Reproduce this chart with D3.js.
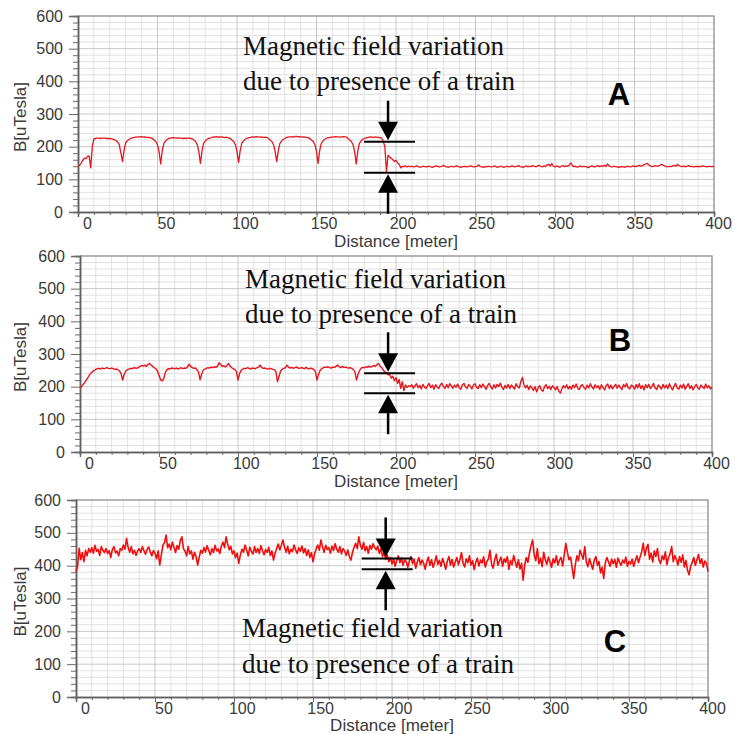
<!DOCTYPE html>
<html><head><meta charset="utf-8">
<script src="https://cdn.jsdelivr.net/npm/d3@7"></script>
<style>body{margin:0;background:#fff}svg{display:block}</style>
</head><body>
<svg id="chart" width="735" height="734"></svg>
<script>
// ---------- data ----------
const distance = d3.range(0, 401, 1); // metres, 1 m sampling
const xTicks = [0, 50, 100, 150, 200, 250, 300, 350, 400];
const yTicks = [0, 100, 200, 300, 400, 500, 600];
const panelLabels = ["A", "B", "C"];
const annotationText = ["Magnetic field variation", "due to presence of a train"];
const xTitle = "Distance [meter]";
const yTitle = "B[uTesla]";

const seriesA = [
140,143,150,158,165,163,170,172,135,200,
224,225,226,226,225,226,226,226,225,225,
225,224,223,221,218,214,205,180,154,190,
212,218,222,225,227,228,229,229,230,230,
231,229,230,229,228,228,227,224,220,215,
206,185,147,188,210,217,222,225,226,227,
228,227,226,227,226,226,225,226,225,226,
226,225,224,220,215,206,185,149,188,210,
217,222,225,226,228,230,229,231,229,230,
229,230,228,229,228,227,224,220,215,206,
185,152,188,210,217,222,225,227,228,229,
230,229,231,230,229,230,229,228,229,228,
224,220,215,206,185,154,188,210,217,222,
225,228,229,230,230,231,229,232,230,231,
230,229,230,229,228,227,224,220,215,206,
185,149,188,210,217,222,225,227,228,229,
229,230,231,230,230,229,230,231,230,229,
224,220,215,206,185,147,188,210,217,222,
225,227,228,229,230,229,228,230,229,228,
228,226,216,200,123,174,168,165,160,155,
158,150,146,135,140,139,141,138,140,139,
140,138,139,141,139,137,138,140,139,138,
139,140,138,137,139,141,140,138,139,140,
143,139,138,137,139,140,138,139,141,139,
138,137,139,140,139,138,140,141,139,138,
139,140,144,139,138,137,139,138,140,139,
138,139,141,138,137,139,140,138,137,139,
140,138,139,141,139,138,140,142,139,138,
137,139,141,138,140,139,142,140,138,141,
143,140,138,141,139,144,146,141,148,140,
138,141,139,137,140,142,139,141,140,144,
150,142,139,140,137,139,141,138,140,139,
138,136,139,141,139,138,140,142,139,141,
140,143,139,147,141,139,138,140,139,138,
137,138,139,138,137,139,140,138,139,141,
140,139,141,143,140,142,145,147,149,144,
141,139,140,142,140,141,143,146,144,141,
139,138,140,139,141,143,140,146,142,140,
139,141,138,140,142,139,140,138,139,140,
139,140,139,141,140,139,138,140,139,140,
139];

const seriesB = [
195,200,207,213,220,228,236,242,246,250,
253,255,256,254,257,255,256,258,256,255,
257,255,253,254,252,248,240,220,238,248,
252,254,256,255,258,257,256,259,262,265,
263,266,262,268,271,266,262,258,255,248,
235,221,218,225,243,252,255,254,257,256,
255,257,254,256,258,255,257,256,260,269,
262,258,256,257,252,245,221,238,250,254,
256,258,257,260,258,261,259,263,273,268,
262,264,260,265,271,263,258,255,252,246,
220,240,250,254,256,255,258,256,254,257,
256,255,258,260,266,258,256,257,255,254,
256,255,253,252,246,215,232,248,254,256,
258,266,260,257,259,256,258,260,257,256,
258,257,255,259,256,254,257,255,252,246,
220,238,250,255,258,260,259,261,258,257,
260,259,262,266,261,258,262,259,260,258,
257,258,256,252,246,220,238,250,257,259,
258,261,259,263,260,262,265,262,268,271,
262,258,250,245,242,236,238,226,232,218,
228,210,222,195,215,188,205,198,203,200,
206,195,203,209,197,204,193,207,199,194,
203,210,197,205,192,206,199,194,205,211,
200,194,207,197,209,203,195,205,198,208,
197,192,205,210,199,194,207,201,193,205,
209,198,194,206,197,208,200,192,204,210,
199,193,206,196,207,200,211,198,191,204,
196,207,194,205,199,193,209,200,196,215,
228,206,196,204,191,202,196,188,200,184,
197,203,190,186,200,206,194,201,191,203,
197,190,200,187,180,194,203,196,206,193,
201,192,205,197,208,195,191,203,206,197,
192,205,196,209,199,193,206,197,203,191,
206,197,190,203,208,194,205,193,201,207,
195,205,197,191,207,199,210,196,193,205,
201,192,207,196,209,194,203,190,206,197,
207,194,201,210,196,191,205,199,193,207,
196,205,194,209,199,190,202,210,196,192,
205,196,208,192,201,209,194,203,190,200,
207,196,192,205,199,194,208,196,203,193,
199];

const seriesC = [
382,398,453,418,440,412,447,430,452,441,
455,438,462,444,450,431,458,447,440,452,
437,446,425,449,458,439,445,430,452,447,
463,450,483,455,441,458,436,447,431,445,
452,440,458,446,435,449,457,442,430,446,
438,421,445,402,433,462,470,493,455,466,
448,472,455,440,461,450,476,488,452,444,
430,458,436,445,420,441,428,402,426,447,
438,455,442,461,447,433,452,440,462,445,
451,437,460,472,455,488,466,448,459,436,
445,424,438,407,432,450,441,463,447,430,
456,444,435,458,440,452,437,461,446,433,
449,440,456,431,445,417,438,452,466,448,
462,478,455,441,459,436,450,443,463,448,
437,455,444,460,439,452,431,448,425,440,
412,436,451,463,447,478,458,441,462,449,
455,438,460,446,467,450,441,458,436,452,
445,431,448,428,417,440,456,468,452,488,
462,450,471,445,458,438,462,450,467,455,
448,460,437,452,428,441,419,433,412,425,
405,420,398,416,430,409,423,401,418,412,
395,414,428,406,420,392,411,425,403,417,
408,389,412,426,401,418,395,410,430,404,
416,398,422,407,389,413,428,402,419,396,
411,425,403,418,440,407,396,421,409,430,
402,415,388,410,423,399,417,408,427,396,
412,420,447,405,392,418,435,401,414,426,
398,421,410,428,389,416,403,431,412,395,
418,390,407,356,402,425,410,438,461,478,
433,415,452,406,423,397,441,418,404,426,
412,395,421,408,430,402,417,425,399,432,
468,441,418,426,395,361,402,430,415,447,
433,420,458,411,397,422,405,389,416,428,
401,413,378,395,361,408,425,412,398,420,
406,419,395,423,410,401,417,408,426,398,
413,405,420,398,415,430,409,426,442,468,
431,452,465,420,438,411,445,428,452,417,
406,430,418,442,403,425,436,458,412,431,
419,402,428,410,433,396,416,387,372,398,
410,425,401,418,434,407,421,396,414,408,
382];

// annotation: field level before / after the train passed, and where the arrow sits
const barsA = [215, 120];
const barsB = [241, 180];
const barsC = [422, 389];
const arrowDistance = [195, 195, 196];

// ---------- drawing ----------
const svg = d3.select("#chart");
const panels = [
  {values: seriesA, bars: barsA, at: arrowDistance[0], letter: panelLabels[0],
   box: {l: 78, r: 714, t: 16, b: 212}, textX: 243, textY: [55, 90], letterPos: [619, 105],
   color: "#e5161d", lw: 1.3, titleDy: 35},
  {values: seriesB, bars: barsB, at: arrowDistance[1], letter: panelLabels[1],
   box: {l: 80, r: 712, t: 256, b: 452}, textX: 245, textY: [288, 323], letterPos: [620, 351],
   color: "#e5161d", lw: 1.4, titleDy: 35},
  {values: seriesC, bars: barsC, at: arrowDistance[2], letter: panelLabels[2],
   box: {l: 76, r: 708, t: 500, b: 697}, textX: 242, textY: [637, 673], letterPos: [615, 652],
   color: "#f20d0d", lw: 1.6, titleDy: 34}
];

const minorX = d3.range(10, 400, 10).filter(v => v % 50 !== 0);
const majorX = d3.range(50, 400, 50);
const allX = d3.range(0, 401, 10);
const minorY = d3.range(20, 600, 20).filter(v => v % 100 !== 0);
const majorY = d3.range(100, 600, 100);
const allYMinor = d3.range(0, 601, 20).filter(v => v % 100 !== 0);

panels.forEach(p => {
  const {l, r, t, b} = p.box;
  const x = d3.scaleLinear().domain([0, 400]).range([l, r]);
  const labelX = d3.scaleLinear().domain([0, 400]).range([l + 9, r + 4]);
  const y = d3.scaleLinear().domain([0, 600]).range([b, t]);
  const g = svg.append("g");

  // grid
  g.append("g").selectAll("line").data(minorX).join("line")
    .attr("x1", d => x(d)).attr("x2", d => x(d)).attr("y1", t).attr("y2", b)
    .attr("stroke", "#e2e2e2").attr("stroke-width", 1);
  g.append("g").selectAll("line").data(minorY).join("line")
    .attr("x1", l).attr("x2", r).attr("y1", d => y(d)).attr("y2", d => y(d))
    .attr("stroke", "#e2e2e2").attr("stroke-width", 1);
  g.append("g").selectAll("line").data(majorX).join("line")
    .attr("x1", d => x(d)).attr("x2", d => x(d)).attr("y1", t).attr("y2", b)
    .attr("stroke", "#c6c6c6").attr("stroke-width", 1);
  g.append("g").selectAll("line").data(majorY).join("line")
    .attr("x1", l).attr("x2", r).attr("y1", d => y(d)).attr("y2", d => y(d))
    .attr("stroke", "#c6c6c6").attr("stroke-width", 1);

  // frame top/right
  g.append("path").attr("d", `M${l},${t}H${r}V${b}`)
    .attr("fill", "none").attr("stroke", "#9c9c9c").attr("stroke-width", 1.5);

  // y axis
  const yMinorAx = g.append("g").attr("transform", `translate(${l},0)`)
    .call(d3.axisLeft(y).tickValues(allYMinor).tickSize(5).tickFormat(""));
  const yAx = g.append("g").attr("transform", `translate(${l},0)`)
    .call(d3.axisLeft(y).tickValues(yTicks).tickSize(9).tickPadding(6).tickFormat(d3.format("d")));
  // x axis
  const xMinorAx = g.append("g").attr("transform", `translate(0,${b})`)
    .call(d3.axisBottom(x).tickValues(allX).tickSize(3).tickFormat(""));
  const xAx = g.append("g").attr("transform", `translate(0,${b})`)
    .call(d3.axisBottom(x).tickValues(xTicks).tickSize(5).tickFormat(d3.format("d")));
  [yMinorAx, yAx, xMinorAx, xAx].forEach(a => {
    a.select(".domain").attr("stroke", "#5f5f5f").attr("stroke-width", 1.5);
    a.selectAll(".tick line").attr("stroke", "#6a6a6a").attr("stroke-width", 1);
  });
  [yAx, xAx].forEach(a => a.selectAll("text")
    .attr("fill", "#3a3a3a").style("font-family", "'Liberation Sans', Arial, sans-serif")
    .style("font-size", "16px"));
  xAx.selectAll(".tick text").attr("y", 6).attr("dy", "0.71em")
    .attr("x", d => labelX(d) - x(d));

  // titles
  g.append("text").attr("x", (l + r) / 2).attr("y", b + p.titleDy).attr("text-anchor", "middle")
    .attr("fill", "#3a3a3a").style("font-family", "'Liberation Sans', Arial, sans-serif")
    .style("font-size", "17px").text(xTitle);
  g.append("text").attr("transform", `translate(26,${(t + b) / 2 + 3}) rotate(-90)`)
    .attr("text-anchor", "middle").attr("fill", "#3a3a3a")
    .style("font-family", "'Liberation Sans', Arial, sans-serif")
    .style("font-size", "17px").text(yTitle);

  // signal
  const line = d3.line().x((d, i) => x(distance[i])).y(d => y(d));
  g.append("path").datum(p.values).attr("d", line)
    .attr("fill", "none").attr("stroke", p.color).attr("stroke-width", p.lw)
    .attr("stroke-linejoin", "round");

  // annotation arrows
  const ax = x(p.at);
  const yTop = y(p.bars[0]), yLow = y(p.bars[1]);
  const ann = g.append("g").attr("stroke", "#000").attr("fill", "#000");
  [yTop, yLow].forEach(yy => ann.append("line")
    .attr("x1", ax - 24).attr("x2", ax + 27).attr("y1", yy).attr("y2", yy).attr("stroke-width", 2));
  const tipU = yTop - 1.5, tipL = yLow + 1.5, hh = 18.5, hw = 10;
  ann.append("path").attr("d", `M${ax},${tipU}L${ax - hw},${tipU - hh}L${ax + hw},${tipU - hh}Z`).attr("stroke", "none");
  ann.append("line").attr("x1", ax).attr("x2", ax).attr("y1", tipU - hh + 1).attr("y2", tipU - hh - 21).attr("stroke-width", 2.5);
  ann.append("path").attr("d", `M${ax},${tipL}L${ax - hw},${tipL + hh}L${ax + hw},${tipL + hh}Z`).attr("stroke", "none");
  ann.append("line").attr("x1", ax).attr("x2", ax).attr("y1", tipL + hh - 1).attr("y2", tipL + hh + 21).attr("stroke-width", 2.5);

  // annotation text
  annotationText.forEach((s, i) => g.append("text")
    .attr("x", p.textX).attr("y", p.textY[i]).attr("fill", "#111")
    .style("font-family", "'Liberation Serif', 'Times New Roman', serif")
    .style("font-size", "27px").text(s));

  // panel letter
  g.append("text").attr("x", p.letterPos[0]).attr("y", p.letterPos[1]).attr("text-anchor", "middle")
    .attr("fill", "#000").style("font-family", "'Liberation Sans', Arial, sans-serif")
    .style("font-weight", "bold").style("font-size", "31px").text(p.letter);
});
</script>
</body></html>
